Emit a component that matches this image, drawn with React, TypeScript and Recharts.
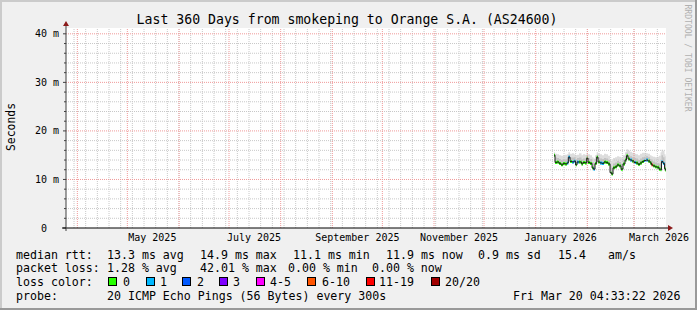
import React from 'react';
import { ComposedChart, Area, Line, XAxis, YAxis, ReferenceLine, CartesianGrid } from 'recharts';

const DAY = 86400000;
const END = Date.UTC(2026, 2, 20, 4, 33, 22);
const START = END - 360 * DAY;
const JAN1 = Date.UTC(2026, 0, 1);
const Y_MAX = 41.2;
const FONT = '"DejaVu Sans Mono", monospace';

// sample times (days after 2026-01-01)
const sampleDays = [11.0, 11.6, 12.8, 14.0, 15.2, 16.4, 17.6, 18.8, 19.6, 20.6,
  21.8, 23.0, 23.9, 24.8, 26.0, 27.5, 28.4, 29.6, 30.6, 31.4,
  32.6, 33.8, 34.7, 35.6, 36.6, 37.4, 38.6, 39.8, 41.0, 42.2,
  43.4, 44.6, 45.5, 46.4, 47.6, 48.8, 50.0, 51.2, 52.4, 53.6,
  54.5, 55.4, 56.6, 57.8, 59.0, 60.2, 61.4, 62.6, 63.8, 65.0,
  66.2, 67.4, 68.6, 69.5, 70.4, 71.6, 72.8, 74.0, 74.9, 75.5,
  76.4, 77.3, 77.9, 78.19];

// median rtt in ms
const medianMs = [15.0, 13.5, 13.6, 13.3, 13.0, 13.3, 13.2, 13.4, 14.6, 13.7,
  13.6, 13.8, 13.0, 13.6, 13.6, 13.2, 13.5, 13.4, 14.4, 13.5,
  13.3, 12.4, 12.1, 13.3, 14.6, 13.6, 13.4, 13.3, 13.6, 13.5,
  13.2, 11.4, 11.1, 12.4, 12.6, 13.0, 12.8, 12.1, 13.2, 14.0,
  14.9, 14.2, 14.0, 13.8, 13.5, 13.4, 13.1, 13.4, 13.7, 13.9,
  14.0, 13.8, 13.4, 13.0, 12.8, 12.6, 12.5, 12.1, 12.0, 13.7,
  13.3, 12.2, 11.9, 11.9];

// loss colour class per sample
const lossIdx = [0, 0, 0, 0, 0, 0, 0, 1, 1, 0,
  1, 1, 0, 1, 0, 0, 0, 0, 0, 0,
  0, 0, 1, 0, 0, 0, 1, 1, 0, 0,
  0, 0, 0, 0, 0, 0, 0, 0, 0, 0,
  0, 0, 1, 0, 1, 0, 0, 0, 0, 1,
  1, 0, 0, 5, 0, 0, 0, 0, 0, 1,
  1, 0, 0, 0];

const smokeTop = [15.6, 15.3, 15.2, 15.0, 14.9, 15.0, 15.1, 15.2, 15.6, 15.3,
  15.4, 15.2, 15.0, 15.1, 15.4, 15.0, 15.2, 15.1, 15.5, 15.2,
  15.0, 14.6, 14.3, 15.0, 15.6, 15.3, 15.2, 15.0, 15.3, 15.2,
  14.9, 14.2, 13.8, 14.4, 14.6, 14.8, 14.7, 14.5, 15.0, 15.6,
  16.2, 15.9, 15.7, 15.5, 15.3, 15.2, 15.0, 15.3, 15.5, 15.5,
  15.4, 15.3, 15.0, 14.8, 14.7, 14.6, 14.7, 14.9, 15.6, 16.1,
  15.9, 15.2, 14.8, 14.8];

const smokeMid = [15.2, 14.5, 14.4, 14.2, 14.0, 14.2, 14.1, 14.3, 15.1, 14.5,
  14.5, 14.6, 14.1, 14.4, 14.5, 14.1, 14.3, 14.3, 15.0, 14.4,
  14.2, 13.6, 13.2, 14.2, 15.1, 14.4, 14.3, 14.2, 14.4, 14.3,
  14.0, 12.8, 12.3, 13.3, 13.5, 13.8, 13.6, 13.2, 14.1, 14.8,
  15.5, 15.0, 14.8, 14.6, 14.4, 14.3, 14.0, 14.3, 14.6, 14.7,
  14.8, 14.6, 14.2, 13.9, 13.7, 13.5, 13.4, 13.3, 13.5, 15.0,
  14.6, 13.6, 13.2, 13.2];

const smokeLow = [14.6, 13.2, 13.3, 13.0, 12.8, 13.0, 12.9, 13.1, 14.2, 13.4,
  13.3, 13.5, 12.8, 13.3, 13.3, 12.9, 13.2, 13.1, 14.0, 13.2,
  13.0, 12.1, 11.9, 13.0, 14.2, 13.3, 13.1, 13.0, 13.3, 13.2,
  12.9, 11.2, 10.9, 12.1, 12.3, 12.7, 12.5, 11.9, 12.9, 13.7,
  14.6, 13.9, 13.7, 13.5, 13.2, 13.1, 12.8, 13.1, 13.4, 13.6,
  13.7, 13.5, 13.1, 12.7, 12.5, 12.3, 12.2, 11.9, 11.8, 13.4,
  13.0, 11.9, 11.7, 11.7];

const lossColors = ['#26ff00', '#00b8ff', '#0059ff', '#7e00ff', '#ff00ff', '#ff5500', '#ff0000', '#a10000'];
const lossLabels = ['0', '1', '2', '3', '4-5', '6-10', '11-19', '20/20'];

const monthStarts = ['2025-04-01', '2025-05-01', '2025-06-01', '2025-07-01', '2025-08-01', '2025-09-01',
  '2025-10-01', '2025-11-01', '2025-12-01', '2026-01-01', '2026-02-01', '2026-03-01'];
const labelDates = ['2025-05-16', '2025-07-16', '2025-09-16', '2025-11-16', '2026-01-16', '2026-03-16'];
const labelTexts = ['May 2025', 'July 2025', 'September 2025', 'November 2025', 'January 2026', 'March 2026'];
const firstWeek = '2025-03-30';

const yMajor = [0, 10, 20, 30, 40];
const yMinor = [2, 4, 6, 8, 12, 14, 16, 18, 22, 24, 26, 28, 32, 34, 36, 38];

const toT = (s: string) => Date.parse(s + 'T00:00:00Z');
const monthTimes = monthStarts.map(toT);
const labelTimes = labelDates.map(toT);
const weekTimes: number[] = [];
for (let t = toT(firstWeek); t < END; t += 7 * DAY) weekTimes.push(t);

const BAND = 0.3;
const rows: any[] = sampleDays.map((d, i) => ({
  t: JAN1 + d * DAY,
  median: medianMs[i],
  smokeOuter: [smokeLow[i], smokeTop[i]],
  smokeInner: [smokeLow[i], smokeMid[i]],
}));
const runs: { key: string; color: string }[] = [];
{
  const n = rows.length;
  let s = 0;
  for (let i = 1; i <= n; i++) {
    if (i === n || lossIdx[i] !== lossIdx[s]) {
      const key = 'run' + runs.length;
      for (let j = s; j <= Math.min(i, n - 1); j++) rows[j][key] = [medianMs[j] - BAND, medianMs[j] + BAND];
      runs.push({ key, color: lossColors[lossIdx[s]] });
      s = i;
    }
  }
}

const YTick = (props: any) => {
  const { x, y, payload } = props;
  const v = payload.value;
  const major = v % 10 === 0;
  return (
    <g>
      <line x1={x - (major ? 3 : 2)} x2={x} y1={y} y2={y} stroke="#404040" />
      {major && (
        <text x={v === 0 ? x - 19 : x - 7} y={y} textAnchor="end" dominantBaseline="central"
          fontSize={10} fontFamily={FONT} fill="#000">{v === 0 ? '0' : `${v} m`}</text>
      )}
    </g>
  );
};

const XTick = (props: any) => {
  const { x, y, payload } = props;
  const i = labelTimes.indexOf(payload.value);
  return (
    <text x={x} y={y + 9} textAnchor="middle" dominantBaseline="central" fontSize={10}
      fontFamily={FONT} fill="#000">{labelTexts[i]}</text>
  );
};

const legendRow1: [string, number][] = [['median rtt:', 16], ['13.3 ms avg', 107], ['14.9 ms max', 200],
  ['11.1 ms min', 293], ['11.9 ms now', 386], ['0.9 ms sd', 478], ['15.4', 558], ['am/s', 608]];
const legendRow2: [string, number][] = [['packet loss:', 16], ['1.28 % avg', 107], ['42.01 % max', 200],
  ['0.00 % min', 288], ['0.00 % now', 372]];
const boxX = [108, 146, 182, 219, 256, 307, 366, 431];
const boxLabelX = [123, 160, 197, 233, 270, 322, 379, 445];

export default function App() {
  const lf = 11.6;
  return (
    <div style={{ position: 'absolute', left: 0, top: 0, width: 697, height: 310, background: '#f0f0f0' }}>
      <div style={{ position: 'absolute', left: 0, top: 0 }}>
        <ComposedChart width={697} height={310} data={rows} margin={{ top: 28, right: 31, bottom: 0, left: 0 }}>
          <CartesianGrid fill="#ffffff" horizontal={false} vertical={false} />
          <XAxis dataKey="t" type="number" domain={[START, END]} allowDataOverflow ticks={labelTimes}
            height={82} tickSize={0} tickMargin={0} tickLine={false} tick={<XTick />} interval={0}
            axisLine={{ stroke: '#000', strokeWidth: 1 }} />
          <YAxis type="number" domain={[0, Y_MAX]} allowDataOverflow width={66}
            ticks={[...yMajor, ...yMinor].sort((a, b) => a - b)} interval={0}
            tickSize={0} tickMargin={0} tickLine={false} tick={<YTick />}
            axisLine={{ stroke: '#404040' }} />
          {yMinor.map(v => (
            <ReferenceLine key={'ym' + v} y={v} stroke="#c8c8c8" strokeDasharray="1 1" />
          ))}
          {weekTimes.map(t => (
            <ReferenceLine key={'xw' + t} x={t} stroke="#c8c8c8" strokeDasharray="1 1" />
          ))}
          {yMajor.filter(v => v > 0).map(v => (
            <ReferenceLine key={'yM' + v} y={v} stroke="#f09a9a" strokeDasharray="1 1" />
          ))}
          {monthTimes.map(t => (
            <ReferenceLine key={'xM' + t} x={t} stroke="#f09a9a" strokeDasharray="1 1" />
          ))}
          <Area dataKey="smokeOuter" type="stepAfter" fill="#dddddd" fillOpacity={1} stroke="none"
            isAnimationActive={false} connectNulls={false} />
          <Area dataKey="smokeInner" type="stepAfter" fill="#c2c2c2" fillOpacity={1} stroke="none"
            isAnimationActive={false} connectNulls={false} />
          {runs.map(r => (
            <Area key={r.key} dataKey={r.key} type="stepAfter" fill={r.color} fillOpacity={1} stroke="none"
              isAnimationActive={false} connectNulls={false} />
          ))}
          <Line dataKey="median" type="stepAfter" stroke="#202020" strokeWidth={1} dot={false}
            isAnimationActive={false} />
        </ComposedChart>
      </div>
      <svg width={697} height={310} style={{ position: 'absolute', left: 0, top: 0, pointerEvents: 'none' }}>
        <rect x={0} y={0} width={697} height={2} fill="#cbcbcb" />
        <rect x={0} y={0} width={2} height={310} fill="#cbcbcb" />
        <rect x={0} y={308} width={697} height={2} fill="#999999" />
        <rect x={695} y={0} width={2} height={310} fill="#999999" />
        <text x={347} y={19} textAnchor="middle" dominantBaseline="central" fontSize={13.2}
          fontFamily={FONT} fill="#000">Last 360 Days from smokeping to Orange S.A. (AS24600)</text>
        <text x={11} y={127} textAnchor="middle" dominantBaseline="central" fontSize={11.4}
          fontFamily={FONT} fill="#000" transform="rotate(-90 11 127)">Seconds</text>
        <text x={687.5} y={58} textAnchor="middle" dominantBaseline="central" fontSize={8.1}
          fontFamily={FONT} fill="#b0b0b0" transform="rotate(90 687.5 58)">RRDTOOL / TOBI OETIKER</text>
        {/* axis extensions and arrows */}
        <line x1={66} x2={66} y1={25} y2={28} stroke="#404040" />
        <line x1={66} x2={66} y1={228} y2={231} stroke="#404040" />
        <line x1={62} x2={66} y1={228} y2={228} stroke="#000" />
        <line x1={666} x2={669} y1={228} y2={228} stroke="#000" />
        <polygon points="63,26 69,26 66,21" fill="#8b1a1a" />
        <polygon points="668,225 668,231 673,228" fill="#8b1a1a" />
        {legendRow1.map(([s, x]) => (
          <text key={'r1' + x} x={x} y={255} dominantBaseline="central" fontSize={lf} fontFamily={FONT} fill="#000">{s}</text>
        ))}
        {legendRow2.map(([s, x]) => (
          <text key={'r2' + x} x={x} y={268} dominantBaseline="central" fontSize={lf} fontFamily={FONT} fill="#000">{s}</text>
        ))}
        <text x={16} y={282} dominantBaseline="central" fontSize={lf} fontFamily={FONT} fill="#000">loss color:</text>
        {lossLabels.map((s, i) => (
          <g key={'lc' + i}>
            <rect x={boxX[i] + 0.5} y={277.5} width={8} height={8} fill={lossColors[i]} stroke="#000" />
            <text x={boxLabelX[i]} y={282} dominantBaseline="central" fontSize={lf} fontFamily={FONT} fill="#000">{s}</text>
          </g>
        ))}
        <text x={16} y={296} dominantBaseline="central" fontSize={lf} fontFamily={FONT} fill="#000">probe:</text>
        <text x={107} y={296} dominantBaseline="central" fontSize={lf} fontFamily={FONT} fill="#000">20 ICMP Echo Pings (56 Bytes) every 300s</text>
        <text x={513} y={296} dominantBaseline="central" fontSize={lf} fontFamily={FONT} fill="#000">Fri Mar 20 04:33:22 2026</text>
      </svg>
    </div>
  );
}
